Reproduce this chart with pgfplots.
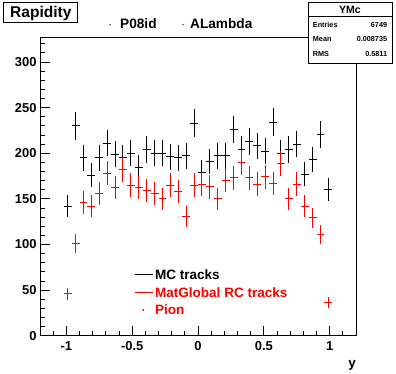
\documentclass[border=0pt]{standalone}
\usepackage{pgfplots}
\pgfplotsset{compat=1.18}
\usepackage{pgfplotstable}
\usepackage{fontspec}
\setmainfont{Liberation Sans}

\pgfplotstableread{
x y ey
-0.99 142 11.9
-0.93 230 15.2
-0.87 195 14.0
-0.81 176 13.3
-0.75 195 14.0
-0.69 211 14.5
-0.63 199 14.1
-0.57 195 14.0
-0.51 200 14.1
-0.45 184 13.6
-0.39 204 14.3
-0.33 200 14.1
-0.27 200 14.1
-0.21 196 14.0
-0.15 195 14.0
-0.09 197 14.0
-0.03 233 15.3
0.03 179 13.4
0.09 191 13.8
0.15 197 14.0
0.21 197 14.0
0.27 226 15.0
0.33 204 14.3
0.39 213 14.6
0.45 208 14.4
0.51 202 14.2
0.57 234 15.3
0.63 200 14.1
0.69 204 14.3
0.75 210 14.5
0.81 177 13.3
0.87 193 13.9
0.93 220 14.8
0.99 160 12.6
}\mctracks

\pgfplotstableread{
x y ey
-0.99 46 6.8
-0.93 101 10.0
-0.87 146 12.1
-0.81 142 11.9
-0.75 156 12.5
-0.69 178 13.3
-0.63 162 12.7
-0.57 182 13.5
-0.51 165 12.8
-0.45 162 12.7
-0.39 159 12.6
-0.33 156 12.5
-0.27 150 12.2
-0.21 165 12.8
-0.15 158 12.6
-0.09 131 11.4
-0.03 165 12.8
0.03 166 12.9
0.09 163 12.8
0.15 150 12.2
0.21 170 13.0
0.27 173 13.2
0.33 190 13.8
0.39 173 13.2
0.45 166 12.9
0.51 174 13.2
0.57 167 12.9
0.63 189 13.7
0.69 150 12.2
0.75 166 12.9
0.81 142 11.9
0.87 129 11.4
0.93 111 10.5
0.99 36 6.0
}\rctracks

\begin{document}
\begin{tikzpicture}
\path[fill=white] (0bp,0bp) rectangle (396bp,374bp);
\begin{axis}[
  at={(40bp,38.3bp)}, anchor=south west, scale only axis,
  width=316bp, height=298.4bp,
  xmin=-1.2, xmax=1.2, ymin=0, ymax=327,
  axis line style={black, line width=0.8bp},
  xtick={-1,-0.5,0,0.5,1},
  xticklabels={-1,-0.5,0,0.5,1},
  minor xtick={-1.1,-0.9,-0.8,-0.7,-0.6,-0.4,-0.3,-0.2,-0.1,0.1,0.2,0.3,0.4,0.6,0.7,0.8,0.9,1.1},
  ytick={0,50,100,150,200,250,300},
  yticklabels={0,50,100,150,200,250,300},
  minor ytick={0,10,...,320},
  xtick pos=bottom, ytick pos=left,
  tick align=inside,
  major tick length=9.5bp, minor tick length=5bp,
  every tick/.style={black, line width=0.8bp},
  xticklabel style={font=\fontsize{13}{13}\selectfont\bfseries, inner sep=0pt, anchor=north, yshift=-6bp},
  yticklabel style={font=\fontsize{13}{13}\selectfont\bfseries, inner sep=0pt, anchor=east, xshift=-3.3bp},
  xlabel={y},
  xlabel style={at={(rel axis cs:1,0)}, anchor=north east, inner sep=0pt, yshift=-24bp, font=\fontsize{13.5}{13.5}\selectfont\bfseries},
  legend style={at={(0.2975,0.2225)}, anchor=north west, draw=none, fill=none, inner sep=0pt,
    row sep=8bp, column sep=2bp,
    font=\fontsize{13.6}{13.6}\selectfont\bfseries,
    nodes={inner sep=0pt, text height=9.8bp, text depth=0bp}},
  legend cell align=left,
  legend image code/.code={\draw[#1] (0bp,0bp) -- (18bp,0bp);},
]
\addplot[draw=none, mark=none, forget plot,
  error bars/.cd, x dir=both, x fixed=0.03, y dir=both, y explicit,
  error mark=none, error bar style={draw=black, solid, line width=1bp, opacity=1}]
  table[x=x, y=y, y error=ey] {\mctracks};
\addplot[draw=none, mark=none, forget plot,
  error bars/.cd, x dir=both, x fixed=0.03, y dir=both, y explicit,
  error mark=none, error bar style={draw=red, solid, line width=1bp, opacity=1}]
  table[x=x, y=y, y error=ey] {\rctracks};
\addlegendimage{black, line width=0.8bp}
\addlegendentry{MC tracks}
\addlegendimage{red, line width=0.8bp}
\addlegendentry{\textcolor{red}{MatGlobal RC tracks}}
\addlegendimage{red, legend image code/.code={\fill[red] (8.7bp,0bp) circle (0.8bp);}}
\addlegendentry{\textcolor{red}{Pion}}
\end{axis}
% title box
\draw[black, line width=0.8bp, fill=white] (3bp,372bp) rectangle (77bp,352bp);
\node[anchor=base, inner sep=0pt, font=\fontsize{15.6}{15.6}\selectfont\bfseries] at (40.8bp,356.3bp) {Rapidity};
% header legend
\fill[black] (110bp,349.3bp) circle (0.7bp);
\node[anchor=base west, inner sep=0pt, font=\fontsize{13.7}{13.7}\selectfont\bfseries] at (120bp,345.7bp) {P08id};
\fill[black] (183bp,349.3bp) circle (0.7bp);
\node[anchor=base west, inner sep=0pt, font=\fontsize{13.7}{13.7}\selectfont\bfseries] at (190bp,345.7bp) {ALambda};
% stats box
\draw[black, line width=0.8bp, fill=white] (308.3bp,371.3bp) rectangle (392.3bp,310.7bp);
\draw[black, line width=0.8bp] (308.3bp,358bp) -- (392.3bp,358bp);
\node[anchor=base, inner sep=0pt, font=\fontsize{10.6}{10.6}\selectfont\bfseries] at (350bp,360bp) {YMc};
\node[anchor=base west, inner sep=0pt, font=\fontsize{7.3}{7.3}\selectfont\bfseries] at (312.7bp,346.7bp) {Entries};
\node[anchor=base east, inner sep=0pt, font=\fontsize{7.3}{7.3}\selectfont\bfseries] at (387.3bp,346.7bp) {6749};
\node[anchor=base west, inner sep=0pt, font=\fontsize{7.3}{7.3}\selectfont\bfseries] at (312.7bp,332bp) {Mean};
\node[anchor=base east, inner sep=0pt, font=\fontsize{7.3}{7.3}\selectfont\bfseries] at (387.3bp,332bp) {0.008735};
\node[anchor=base west, inner sep=0pt, font=\fontsize{7.3}{7.3}\selectfont\bfseries] at (312.7bp,317.7bp) {RMS};
\node[anchor=base east, inner sep=0pt, font=\fontsize{7.3}{7.3}\selectfont\bfseries] at (387.3bp,317.7bp) {0.5811};
\end{tikzpicture}
\end{document}
